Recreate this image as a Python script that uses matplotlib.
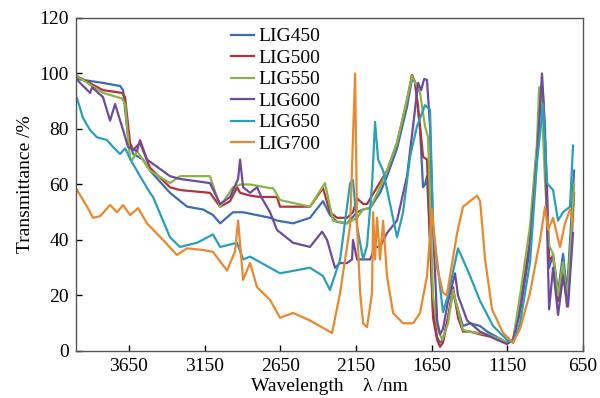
import matplotlib
matplotlib.use("Agg")
import matplotlib.pyplot as plt

plt.rcParams['font.family'] = ['Liberation Serif', 'DejaVu Serif']

# wavenumber / transmittance readings for each sample
x450 = [3993, 3822, 3709, 3689, 3656, 3623, 3557, 3511, 3379, 3266, 3161, 3095, 3048, 2963,
        2896, 2718, 2672, 2566, 2454, 2368, 2322, 2275, 2209, 2176, 2143, 2103, 2057, 1991,
        1945, 1879, 1813, 1780, 1760, 1727, 1707, 1694, 1681, 1661, 1641, 1614, 1595, 1575,
        1542, 1509, 1482, 1443, 1396, 1330, 1284, 1218, 1152, 1112, 1066, 1000, 954, 930,
        914, 888, 881, 874, 848, 815, 782, 756, 730, 709]
y450 = [98, 96.6, 95.5, 94, 77, 71, 69, 65, 57, 52, 51, 49, 46, 50,
        50, 48, 47, 46, 48, 54, 49, 46.5, 46, 48, 50, 51, 51.5, 57,
        63, 73, 88, 98, 97, 80, 59, 60, 63, 40, 15, 5, 3, 4,
        12, 21, 16, 9, 10, 9, 7, 5, 3, 4, 15, 38, 72, 95,
        92, 60, 42, 30, 35, 21, 35, 21, 45, 65]

x500 = [3993, 3822, 3696, 3676, 3643, 3623, 3577, 3511, 3379, 3313, 3115, 3048, 2982, 2936,
        2916, 2850, 2784, 2672, 2652, 2454, 2368, 2322, 2275, 2209, 2170, 2143, 2103, 2077,
        2011, 1945, 1879, 1813, 1780, 1760, 1740, 1707, 1681, 1661, 1641, 1614, 1595, 1575,
        1542, 1509, 1476, 1443, 1396, 1330, 1251, 1152, 1112, 1066, 1000, 954, 925, 914,
        888, 874, 848, 815, 782, 756, 730, 709]
y500 = [99, 94, 93, 91.5, 75, 72.4, 75, 66, 59, 58, 57, 52, 54, 59,
        57, 56, 55.5, 55.5, 52, 52, 58.7, 50, 48, 48, 50, 55, 53, 53,
        59, 65, 75, 90.5, 99.5, 97, 88, 70, 69, 40, 12, 4, 1.5, 3,
        12, 23, 12, 7, 7, 6, 5, 3, 4, 17, 40, 73, 95, 90,
        55, 33, 34, 18, 30, 16, 35, 57]

x550 = [3993, 3822, 3696, 3676, 3643, 3630, 3597, 3511, 3379, 3313, 3115, 3048, 2963, 2916,
        2850, 2718, 2698, 2652, 2454, 2355, 2302, 2209, 2143, 2103, 2057, 1991, 1945, 1879,
        1813, 1780, 1760, 1727, 1694, 1674, 1641, 1614, 1581, 1542, 1509, 1443, 1396, 1284,
        1218, 1152, 1112, 1066, 1000, 954, 940, 925, 900, 874, 848, 815, 782, 756, 730, 709]
y550 = [99, 93, 91, 89, 69, 68.8, 72, 65, 60.5, 63, 63, 52, 59, 60,
        60, 58.7, 58.7, 54.4, 52, 60.5, 47, 46, 48, 51, 51.5, 59, 65, 75,
        90.5, 99, 97, 93, 81, 77, 20, 9, 4, 10, 22, 7.5, 7, 6,
        4.7, 3, 4, 20, 45, 75, 95, 92, 60, 38, 35, 20, 32, 18, 40, 60]

x600 = [3993, 3907, 3894, 3822, 3775, 3742, 3689, 3656, 3597, 3577, 3531, 3379, 3313, 3115,
        3048, 2982, 2929, 2916, 2896, 2850, 2804, 2771, 2718, 2672, 2566, 2454, 2374, 2341,
        2289, 2255, 2209, 2176, 2170, 2143, 2057, 2024, 1991, 1945, 1879, 1813, 1773, 1740,
        1720, 1700, 1681, 1661, 1641, 1614, 1595, 1575, 1542, 1496, 1476, 1416, 1330, 1218,
        1152, 1112, 1066, 1000, 954, 921, 901, 888, 874, 848, 815, 782, 749, 716]
y600 = [97.7, 93, 95, 91.5, 83, 89, 79.6, 73.5, 72, 76, 69, 63, 62, 60.5,
        53, 55.5, 62, 69, 59, 57, 59, 55, 50, 43.6, 39, 37.5, 43, 40,
        30, 31.7, 31.7, 33, 40, 33, 33, 37.5, 37.5, 42.5, 47, 63, 81, 96.6,
        94, 98, 97.7, 81, 45, 11, 6, 8, 18, 28, 20, 11, 7, 4,
        2.5, 4, 14, 38, 70, 100, 80, 45, 15, 30, 13, 27, 16, 42.5]

x650 = [3993, 3954, 3907, 3861, 3795, 3755, 3709, 3676, 3630, 3577, 3511, 3491, 3379, 3313,
        3200, 3095, 3048, 2936, 2896, 2850, 2784, 2718, 2652, 2454, 2368, 2322, 2255, 2189,
        2170, 2143, 2103, 2077, 2044, 2024, 2004, 1971, 1879, 1839, 1793, 1747, 1694, 1661,
        1641, 1575, 1542, 1476, 1396, 1330, 1244, 1152, 1112, 1066, 1000, 954, 914, 888,
        848, 815, 782, 736, 716]
y650 = [91, 84, 79.6, 77, 76, 73.5, 71, 73, 68, 63, 57, 55.5, 41, 37.5,
        39, 42, 37.5, 39, 33, 34, 32, 30, 28, 30, 27, 22, 33, 60.5,
        61.6, 45, 33, 38, 60, 82.5, 69, 65, 41, 50, 70, 81, 88.6, 87,
        45, 14, 20, 37, 27, 18, 9, 4, 3, 10, 32, 68, 89, 60.5,
        58, 47, 50, 52, 74]

x700 = [3993, 3927, 3888, 3841, 3775, 3729, 3689, 3643, 3590, 3531, 3425, 3333, 3266, 3161,
        3095, 3002, 2949, 2929, 2896, 2850, 2804, 2718, 2652, 2566, 2454, 2341, 2308, 2255,
        2189, 2156, 2143, 2123, 2103, 2077, 2044, 2037, 2024, 2011, 1991, 1971, 1945, 1905,
        1839, 1773, 1727, 1681, 1648, 1614, 1575, 1550, 1482, 1443, 1350, 1330, 1297, 1251,
        1178, 1112, 1066, 1000, 934, 901, 881, 848, 802, 769, 736, 716]
y700 = [58, 52, 48, 48.6, 52.6, 50, 52.6, 49, 51.5, 46, 40, 34.6, 37, 36.4,
        35.7, 29, 36, 47, 25.6, 31.7, 23, 18.4, 12, 13.7, 11, 7.5, 6.5, 21,
        45, 100, 45, 21, 10, 8.6, 21, 50, 33, 48, 33, 47, 27, 13.7,
        10, 10, 13.7, 27, 51, 30, 21, 20, 42.5, 52, 56, 54, 33, 15,
        6.5, 3, 8, 21, 40, 52, 43.6, 48, 37.5, 46, 51, 47]

series = [("LIG450", x450, y450, "#3a6db5"),
          ("LIG500", x500, y500, "#b4323a"),
          ("LIG550", x550, y550, "#8ab443"),
          ("LIG600", x600, y600, "#6e4b9e"),
          ("LIG650", x650, y650, "#2a9fb8"),
          ("LIG700", x700, y700, "#e8892f")]

xticks = [3650, 3150, 2650, 2150, 1650, 1150, 650]
yticks = [0, 20, 40, 60, 80, 100, 120]

fig = plt.figure(figsize=(6, 3.98), dpi=100)
ax = fig.add_axes([0.1267, 0.1181, 0.845, 0.8367])

for name, xs, ys, col in series:
    ax.plot(xs, ys, color=col, lw=1.6, label=name)

ax.set_xlim(4000, 650)
ax.set_ylim(0, 120)
ax.set_xticks(xticks)
ax.set_yticks(yticks)
ax.tick_params(direction='in', length=4, width=1, labelsize=14, pad=5)
for sp in ax.spines.values():
    sp.set_color('#555555')
    sp.set_linewidth(1.0)

ax.set_xlabel("Wavelength    λ /nm", fontsize=14, labelpad=2)
ax.set_ylabel("Transmittance /%", fontsize=14, labelpad=4)

ax.legend(loc='upper left', bbox_to_anchor=(0.385, 0.93), bbox_transform=fig.transFigure,
          frameon=False, fontsize=14, handlelength=1.2, handletextpad=0.2,
          labelspacing=0.2, borderpad=0, borderaxespad=0)

fig.savefig("out.png", dpi=100)
